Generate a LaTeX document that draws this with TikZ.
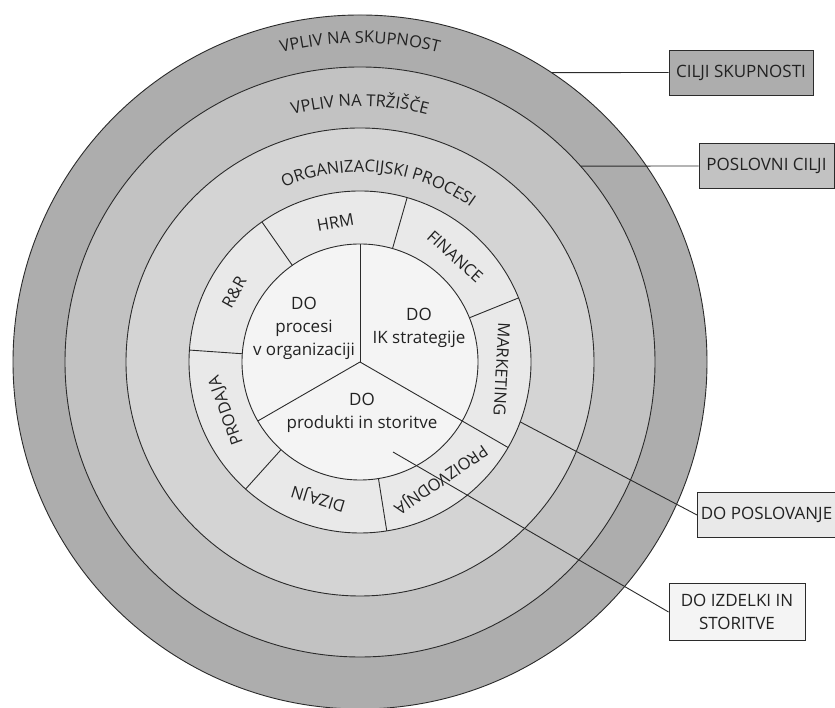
\documentclass[tikz,border=0pt]{standalone}
\usepackage{fontspec}
\setmainfont{Open Sans}
\usetikzlibrary{decorations.text}
\definecolor{krogA}{HTML}{ADADAD}
\definecolor{krogB}{HTML}{C2C2C2}
\definecolor{krogC}{HTML}{D4D4D4}
\definecolor{krogD}{HTML}{E9E9E9}
\definecolor{krogE}{HTML}{F4F4F4}
\definecolor{crta}{HTML}{2B2B2B}
\definecolor{tekst}{HTML}{222222}
\def\lblfont{\fontsize{16.5}{22}\selectfont}
\def\srfont{\fontsize{17}{23}\selectfont}

\begin{document}
\begin{tikzpicture}[x=1pt,y=1pt,
    rob/.style={draw=crta,line width=0.9pt},
    seg/.style={font=\lblfont,text=tekst,inner sep=0pt},
    sred/.style={font=\srfont,text=tekst,align=center,inner sep=0pt},
    okvir/.style={draw=crta,line width=0.9pt,font=\srfont,text=tekst,align=center,minimum height=45pt},
    napis/.style={decorate,decoration={text along path,text align=center,text color=tekst,text={|\lblfont|#1}}}]
  \useasboundingbox (0,0) rectangle (835,708);
  \fill[white] (0,0) rectangle (835,708);
  \coordinate (c) at (360,346);

  % kolobarji
  \draw[rob,fill=krogA] (c) circle (347);
  \draw[rob,fill=krogB] (c) circle (295);
  \draw[rob,fill=krogC] (c) circle (234);
  \draw[rob,fill=krogD] (c) circle (171);
  \path[napis={VPLIV NA SKUPNOST}] ([shift={(c)}]125:319) arc (125:55:319);
  \path[napis={VPLIV NA TRŽIŠČE}] ([shift={(c)}]125:256) arc (125:55:256);
  \path[napis={ORGANIZACIJSKI PROCESI}] ([shift={(c)}]129:190) arc (129:39:190);

  % segmenti
  \draw[rob] ([shift={(c)}]125:118) -- ([shift={(c)}]125:171);
  \draw[rob] ([shift={(c)}]74:118) -- ([shift={(c)}]74:171);
  \draw[rob] ([shift={(c)}]22:118) -- ([shift={(c)}]22:171);
  \draw[rob] ([shift={(c)}]-30:118) -- ([shift={(c)}]-30:171);
  \draw[rob] ([shift={(c)}]-81:118) -- ([shift={(c)}]-81:171);
  \draw[rob] ([shift={(c)}]-132:118) -- ([shift={(c)}]-132:171);
  \draw[rob] ([shift={(c)}]176:118) -- ([shift={(c)}]176:171);
  \node[seg,rotate=10] (hrm) at ([shift={(c)}]100:142) {HRM};
  \node[seg,rotate=-42] (fin) at ([shift={(c)}]48:142) {FINANCE};
  \node[seg,rotate=-93] (mar) at ([shift={(c)}]-3:142) {MARKETING};
  \node[seg,rotate=-145.5] (pro) at ([shift={(c)}]-55.5:142) {PROIZVODNJA};
  \node[seg,rotate=-197] (diz) at ([shift={(c)}]-107:142) {DIZAJN};
  \node[seg,rotate=110] (prd) at ([shift={(c)}]200:142) {PRODAJA};
  \node[seg,rotate=61] (rr) at ([shift={(c)}]151:144) {R\&R};

  % sredina
  \draw[rob,fill=krogE] (c) circle (118);
  \draw[rob] (c) -- ++(90:118);
  \draw[rob] (c) -- ++(210:118);
  \draw[rob] (c) -- ++(330:118);
  \node[sred] (dproc) at (304,380) {DO\\procesi\\v organizaciji};
  \node[sred] (dik) at (419,380) {DO\\IK strategije};
  \node[sred] (dprod) at (362,295) {DO\\produkti in storitve};

  % okvirji
  \node[okvir,fill=krogA,minimum width=144pt] (cs) at (741,635.5) {CILJI SKUPNOSTI};
  \node[okvir,fill=krogB,minimum width=135pt] (pc) at (766.5,542) {POSLOVNI CILJI};
  \node[okvir,fill=krogD,minimum width=135pt] (dp) at (766.5,193) {DO POSLOVANJE};
  \node[okvir,fill=krogE,minimum width=136pt,minimum height=57pt] (di) at (737,96) {DO IZDELKI IN\\STORITVE};

  \coordinate (k1) at ([shift={(c)}]56.5:347);
  \coordinate (k2) at ([shift={(c)}]41.6:295);
  \coordinate (k3) at ([shift={(c)}]-20.5:171);
  \coordinate (k4) at (393,256);
  \draw[rob] (k1) -- (cs.west);
  \draw[rob] (k2) -- (pc.west);
  \draw[rob] (k3) -- (dp.west);
  \draw[rob] (k4) -- (di.west);
\end{tikzpicture}
\end{document}
